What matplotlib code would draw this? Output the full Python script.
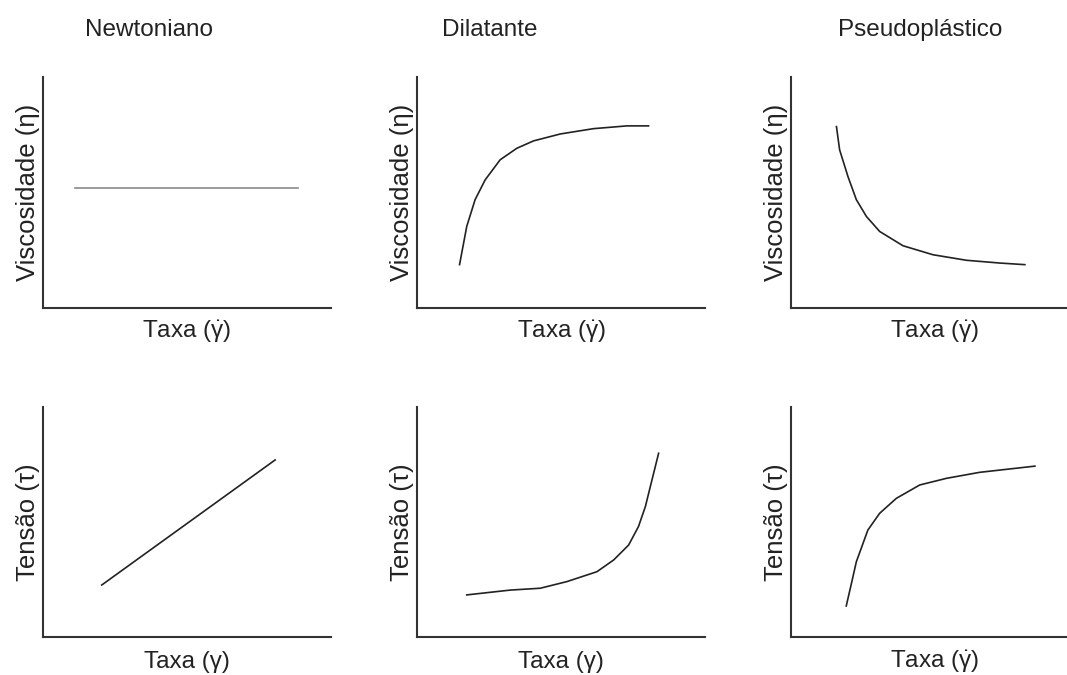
import numpy as np
import matplotlib
matplotlib.use("Agg")
import matplotlib.pyplot as plt

plt.rcParams['font.family'] = ['Liberation Sans', 'DejaVu Sans']
plt.rcParams['mathtext.fontset'] = 'custom'
plt.rcParams['mathtext.rm'] = 'Liberation Sans'
plt.rcParams['mathtext.it'] = 'Liberation Sans:italic'

# titulos das colunas
titulos = ["Newtoniano", "Dilatante", "Pseudoplástico"]

# curvas de viscosidade (linha de cima), eixos normalizados 0..1
visc_newt_x = [0.112, 0.886]
visc_newt_y = [0.517, 0.517]

visc_dil_x = [0.147, 0.172, 0.201, 0.236, 0.288, 0.346, 0.404, 0.497, 0.612, 0.728, 0.803]
visc_dil_y = [0.186, 0.352, 0.468, 0.554, 0.641, 0.691, 0.723, 0.753, 0.776, 0.788, 0.788]

visc_pse_x = [0.159, 0.170, 0.199, 0.228, 0.263, 0.309, 0.390, 0.494, 0.610, 0.726, 0.813]
visc_pse_y = [0.785, 0.684, 0.568, 0.468, 0.395, 0.330, 0.268, 0.229, 0.205, 0.193, 0.186]

# curvas de tensao (linha de baixo)
tens_newt_x = [0.205, 0.807]
tens_newt_y = [0.226, 0.770]

tens_dil_x = [0.172, 0.323, 0.427, 0.520, 0.624, 0.682, 0.734, 0.768, 0.792, 0.809, 0.838]
tens_dil_y = [0.183, 0.204, 0.212, 0.241, 0.284, 0.335, 0.400, 0.480, 0.567, 0.653, 0.799]

tens_pse_x = [0.193, 0.211, 0.228, 0.268, 0.309, 0.367, 0.448, 0.541, 0.656, 0.848]
tens_pse_y = [0.135, 0.233, 0.327, 0.465, 0.538, 0.603, 0.661, 0.690, 0.716, 0.743]

taxa_ponto = r"Taxa ($\dot{\mathrm{\gamma}}$)"
taxa_simples = "Taxa (γ)"

fig = plt.figure(figsize=(10.67, 6.75), dpi=100)

lefts = [0.040, 0.391, 0.741]
largura = 0.270
linhas = [(0.5444, 0.3415), (0.0563, 0.3407)]

curvas = [
    [(visc_newt_x, visc_newt_y), (visc_dil_x, visc_dil_y), (visc_pse_x, visc_pse_y)],
    [(tens_newt_x, tens_newt_y), (tens_dil_x, tens_dil_y), (tens_pse_x, tens_pse_y)],
]
ylabels = ["Viscosidade (η)", "Tensão (τ)"]
xlabels = [[taxa_ponto, taxa_ponto, taxa_ponto],
           [taxa_simples, taxa_simples, taxa_ponto]]
cores = [["#8a8a8a", "#222222", "#222222"],
         ["#222222", "#222222", "#222222"]]
pos_titulo = [0.37, 0.253, 0.448]

txt = "#222222"
for i, (bottom, altura) in enumerate(linhas):
    for j, left in enumerate(lefts):
        ax = fig.add_axes([left, bottom, largura, altura])
        x, y = curvas[i][j]
        ax.plot(x, y, color=cores[i][j], lw=1.2)
        ax.set_xlim(0, 1)
        ax.set_ylim(0, 1)
        for s in ["top", "right"]:
            ax.spines[s].set_visible(False)
        for s in ["left", "bottom"]:
            ax.spines[s].set_linewidth(1.5)
            ax.spines[s].set_color("#333333")
        ax.set_xticks([])
        ax.set_yticks([])
        ax.set_ylabel(ylabels[i], fontsize=18.5, color=txt, labelpad=2)
        # rotulo do eixo x alinhado pela linha de base
        ax.set_xlabel(xlabels[i][j], fontsize=17.5, color=txt, va="baseline")
        ax.xaxis.set_label_coords(0.5, -0.134)
        if i == 0:
            fig.text(left + pos_titulo[j] * largura, 0.956, titulos[j],
                     fontsize=17.5, color=txt, ha="center", va="center")

fig.savefig("out.png", dpi=100, facecolor="white")
